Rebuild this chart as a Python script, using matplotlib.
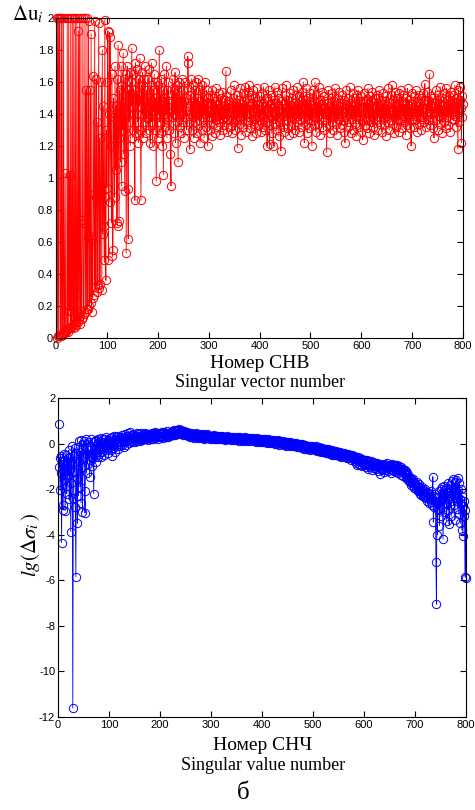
import numpy as np
import matplotlib
matplotlib.use("Agg")
import matplotlib.pyplot as plt

plt.rcParams["axes.unicode_minus"] = False
plt.rcParams["mathtext.fontset"] = "stix"

# Верхний график: delta u_i по номеру сингулярного вектора (1..800)
du = [
    0.00, 2.00, 0.01, 2.00, 0.01, 2.00, 2.00, 0.02, 0.01, 2.00, 0.02, 2.00, 0.03, 0.02, 2.00, 0.03, 0.04, 1.03, 0.04, 0.05,
    0.05, 2.00, 0.06, 0.04, 2.00, 0.17, 1.02, 0.06, 2.00, 0.07, 0.16, 2.00, 0.08, 0.06, 2.00, 0.09, 0.07, 2.00, 0.10, 0.08,
    2.00, 0.28, 0.10, 1.92, 0.12, 2.00, 0.09, 0.14, 2.00, 0.17, 0.12, 0.74, 2.00, 0.13, 0.15, 0.72, 2.00, 0.16, 1.55, 0.18,
    2.00, 0.18, 0.63, 1.98, 0.20, 0.64, 1.55, 0.22, 1.90, 0.16, 0.62, 0.25, 1.64, 0.90, 0.27, 1.98, 0.32, 0.88, 1.62, 0.29,
    1.35, 0.33, 0.86, 1.97, 0.31, 1.25, 0.34, 0.92, 1.60, 0.30, 1.80, 0.65, 1.45, 0.70, 0.49, 1.99, 0.88, 0.36, 1.30, 0.94,
    1.60, 1.92, 0.49, 1.40, 1.91, 0.85, 1.88, 1.20, 0.72, 1.65, 0.51, 0.55, 1.50, 1.38, 0.88, 1.70, 1.05, 1.45, 0.72, 1.62,
    0.70, 1.83, 1.25, 0.73, 1.55, 1.45, 1.10, 1.70, 0.95, 1.58, 1.30, 1.78, 1.15, 1.62, 0.92, 1.40, 1.65, 0.53, 1.48, 1.70,
    0.93, 0.62, 1.55, 1.35, 1.66, 1.20, 1.60, 1.45, 1.81, 1.25, 1.65, 1.30, 1.55, 1.40, 0.86, 1.72, 1.28, 1.50, 1.68, 1.35,
    1.52, 1.22, 1.62, 1.45, 1.75, 1.30, 0.86, 1.58, 1.40, 1.66, 1.25, 1.48, 1.62, 1.35, 1.70, 1.42, 1.28, 1.55, 1.38, 1.62,
    1.45, 1.30, 1.68, 1.40, 1.22, 1.58, 1.35, 1.72, 1.48, 1.20, 1.55, 1.42, 1.65, 1.30, 1.50, 1.38, 0.98, 1.60, 1.45, 1.25,
    1.58, 1.40, 1.80, 1.35, 1.52, 1.28, 1.62, 1.44, 1.20, 1.55, 1.02, 1.48, 1.65, 1.32, 1.50, 1.40, 1.70, 1.25, 1.55, 1.38,
    1.60, 1.30, 1.48, 1.42, 1.15, 0.95, 1.52, 1.38, 1.62, 1.45, 1.28, 1.55, 1.40, 1.66, 1.22, 1.50, 1.35, 1.58, 1.44, 1.10,
    1.48, 1.60, 1.32, 1.52, 1.40, 1.28, 1.62, 1.45, 1.35, 1.55, 1.25, 1.48, 1.60, 1.38, 1.50, 1.42, 1.30, 1.56, 1.76, 1.72,
    1.45, 1.35, 1.18, 1.52, 1.40, 1.62, 1.30, 1.48, 1.38, 1.58, 1.25, 1.45, 1.55, 1.35, 1.60, 1.42, 1.28, 1.50, 1.40, 1.62,
    1.36, 1.48, 1.22, 1.55, 1.42, 1.30, 1.58, 1.45, 1.38, 1.52, 1.25, 1.60, 1.40, 1.46, 1.32, 1.55, 1.42, 1.20, 1.50, 1.38,
    1.42, 1.30, 1.52, 1.38, 1.47, 1.26, 1.55, 1.40, 1.34, 1.50, 1.44, 1.28, 1.48, 1.36, 1.56, 1.41, 1.32, 1.46, 1.39, 1.53,
    1.35, 1.44, 1.27, 1.50, 1.42, 1.37, 1.54, 1.30, 1.45, 1.40, 1.33, 1.49, 1.38, 1.67, 1.43, 1.29, 1.51, 1.36, 1.46, 1.41,
    1.48, 1.32, 1.44, 1.55, 1.37, 1.28, 1.50, 1.42, 1.35, 1.58, 1.40, 1.30, 1.47, 1.43, 1.36, 1.52, 1.19, 1.45, 1.38, 1.49,
    1.34, 1.56, 1.41, 1.27, 1.46, 1.39, 1.53, 1.32, 1.44, 1.48, 1.36, 1.57, 1.40, 1.29, 1.50, 1.43, 1.35, 1.54, 1.58, 1.38,
    1.45, 1.31, 1.52, 1.40, 1.26, 1.47, 1.42, 1.55, 1.34, 1.44, 1.50, 1.37, 1.28, 1.48, 1.41, 1.56, 1.33, 1.46, 1.39, 1.51,
    1.36, 1.43, 1.29, 1.53, 1.40, 1.47, 1.32, 1.57, 1.38, 1.45, 1.30, 1.50, 1.42, 1.35, 1.20, 1.48, 1.41, 1.55, 1.33, 1.21,
    1.46, 1.39, 1.52, 1.28, 1.44, 1.37, 1.20, 1.49, 1.42, 1.57, 1.34, 1.47, 1.40, 1.30, 1.54, 1.38, 1.45, 1.26, 1.50, 1.43,
    1.35, 1.17, 1.48, 1.41, 1.56, 1.32, 1.46, 1.39, 1.29, 1.52, 1.44, 1.36, 1.58, 1.40, 1.31, 1.49, 1.43, 1.27, 1.53, 1.38,
    1.45, 1.33, 1.50, 1.42, 1.28, 1.55, 1.37, 1.47, 1.40, 1.30, 1.52, 1.44, 1.35, 1.57, 1.39, 1.46, 1.29, 1.51, 1.41, 1.36,
    1.48, 1.32, 1.54, 1.40, 1.45, 1.60, 1.38, 1.22, 1.49, 1.43, 1.34, 1.56, 1.41, 1.28, 1.50, 1.37, 1.46, 1.31, 1.53, 1.42,
    1.36, 1.47, 1.20, 1.44, 1.39, 1.55, 1.33, 1.48, 1.60, 1.41, 1.29, 1.52, 1.38, 1.45, 1.34, 1.57, 1.42, 1.27, 1.49, 1.40,
    1.46, 1.32, 1.54, 1.38, 1.43, 1.30, 1.51, 1.44, 1.36, 1.48, 1.40, 1.16, 1.47, 1.42, 1.55, 1.33, 1.45, 1.39, 1.28, 1.50,
    1.41, 1.35, 1.53, 1.44, 1.30, 1.48, 1.38, 1.56, 1.42, 1.34, 1.46, 1.27, 1.50, 1.40, 1.37, 1.54, 1.43, 1.31, 1.47, 1.39,
    1.45, 1.33, 1.52, 1.41, 1.36, 1.49, 1.29, 1.22, 1.44, 1.55, 1.38, 1.46, 1.32, 1.50, 1.42, 1.35, 1.57, 1.40, 1.28, 1.47,
    1.43, 1.37, 1.53, 1.30, 1.45, 1.40, 1.50, 1.34, 1.46, 1.26, 1.52, 1.41, 1.38, 1.55, 1.44, 1.32, 1.48, 1.39, 1.29, 1.51,
    1.42, 1.36, 1.24, 1.47, 1.40, 1.53, 1.33, 1.45, 1.38, 1.49, 1.31, 1.43, 1.56, 1.37, 1.46, 1.28, 1.51, 1.41, 1.35, 1.48,
    1.39, 1.54, 1.32, 1.44, 1.40, 1.27, 1.50, 1.43, 1.36, 1.52, 1.45, 1.30, 1.47, 1.38, 1.55, 1.41, 1.34, 1.49, 1.42, 1.29,
    1.46, 1.37, 1.53, 1.40, 1.33, 1.48, 1.44, 1.26, 1.51, 1.39, 1.45, 1.35, 1.56, 1.42, 1.30, 1.47, 1.41, 1.36, 1.52, 1.58,
    1.43, 1.34, 1.49, 1.40, 1.28, 1.54, 1.38, 1.45, 1.32, 1.50, 1.42, 1.36, 1.47, 1.29, 1.53, 1.41, 1.37, 1.55, 1.44, 1.31,
    1.48, 1.39, 1.52, 1.35, 1.46, 1.42, 1.27, 1.50, 1.40, 1.33, 1.56, 1.44, 1.38, 1.49, 1.31, 1.45, 1.41, 1.20, 1.53, 1.37,
    1.46, 1.40, 1.32, 1.51, 1.43, 1.36, 1.55, 1.39, 1.48, 1.29, 1.45, 1.42, 1.34, 1.52, 1.38, 1.47, 1.30, 1.50, 1.44, 1.37,
    1.53, 1.41, 1.35, 1.49, 1.59, 1.43, 1.32, 1.46, 1.39, 1.54, 1.36, 1.48, 1.42, 1.65, 1.40, 1.33, 1.51, 1.45, 1.37, 1.50,
    1.44, 1.31, 1.25, 1.47, 1.41, 1.55, 1.36, 1.49, 1.43, 1.30, 1.52, 1.39, 1.46, 1.34, 1.57, 1.42, 1.38, 1.50, 1.28, 1.45,
    1.40, 1.53, 1.35, 1.47, 1.42, 1.31, 1.56, 1.44, 1.38, 1.49, 1.33, 1.51, 1.41, 1.46, 1.29, 1.54, 1.43, 1.37, 1.48, 1.40,
    1.52, 1.36, 1.45, 1.58, 1.39, 1.47, 1.32, 1.50, 1.43, 1.18, 1.55, 1.41, 1.35, 1.49, 1.57, 1.44, 1.22, 1.51, 1.38, 1.46,
]

# Нижний график: lg(delta sigma_i) по номеру сингулярного числа
lg_ds = [
    0.85, -1.05, -0.62, -2.05, -0.55, -1.30, -4.35, -0.80, -2.70, -2.90, -0.45, -1.60, -0.70, -2.95, -1.20, -0.50, -2.20, -1.85, -0.65, -1.40,
    -0.30, -2.45, -1.10, -0.60, -3.86, -1.75, -0.10, -0.85, -11.60, -2.40, -0.55, -1.25, -0.20, -2.80, -5.85, -0.40, -1.50, -3.50, -0.15, -2.30,
    -0.75, 0.10, -1.90, -0.35, -2.60, 0.15, -1.05, -3.00, -0.25, -0.60, 0.12, -2.10, -3.05, -0.45, 0.18, -1.30, -0.20, -0.90, 0.08, -0.55,
    -0.30, -1.45, -0.70, 0.20, -0.15, -1.00, -0.40, 0.05, -0.65, -2.20, -0.25, 0.10, -0.50, -0.80, 0.15, -0.35, -0.05, -0.60, 0.22, -0.20,
    -0.45, 0.10, -0.15, -0.60, 0.25, -0.10, -0.35, 0.18, -0.25, 0.05, -0.50, 0.20, -0.05, -0.30, 0.28, 0.00, -0.20, 0.15, -0.40, 0.10,
    -0.15, 0.25, -0.30, 0.05, 0.30, -0.55, 0.12, -0.20, 0.35, -0.05, 0.20, -0.35, 0.15, 0.28, -0.10, 0.05, 0.32, -0.25, 0.18, 0.00,
    0.30, -0.12, 0.22, 0.05, 0.38, -0.05, 0.15, 0.28, -0.15, 0.20, 0.40, 0.08, 0.25, -0.08, 0.32, 0.12, 0.45, 0.18, 0.02, 0.35,
    0.20, 0.50, 0.10, 0.28, 0.38, 0.05, 0.25, 0.42, 0.15, 0.30, 0.08, 0.35, 0.22, 0.45, 0.12, 0.30, 0.40, 0.18, 0.26, 0.10,
    0.32, 0.45, 0.20, 0.38, 0.15, 0.28, 0.42, 0.25, 0.35, 0.18, 0.48, 0.30, 0.22, 0.40, 0.28, 0.15, 0.36, 0.44, 0.25, 0.32,
    0.40, 0.22, 0.35, 0.48, 0.28, 0.38, 0.20, 0.42, 0.32, 0.50, 0.25, 0.36, 0.45, 0.30, 0.40, 0.22, 0.38, 0.46, 0.28, 0.35,
    0.42, 0.30, 0.50, 0.35, 0.25, 0.45, 0.38, 0.52, 0.32, 0.40, 0.28, 0.46, 0.36, 0.55, 0.42, 0.30, 0.48, 0.38, 0.45, 0.34,
    0.50, 0.40, 0.56, 0.44, 0.36, 0.52, 0.42, 0.58, 0.46, 0.38, 0.55, 0.45, 0.60, 0.48, 0.40, 0.58, 0.50, 0.62, 0.45, 0.55,
    0.48, 0.58, 0.42, 0.52, 0.45, 0.38, 0.55, 0.44, 0.50, 0.36, 0.46, 0.40, 0.52, 0.35, 0.44, 0.48, 0.38, 0.42, 0.30, 0.45,
    0.36, 0.40, 0.28, 0.44, 0.34, 0.38, 0.25, 0.42, 0.32, 0.36, 0.45, 0.30, 0.38, 0.26, 0.40, 0.33, 0.28, 0.42, 0.35, 0.30,
    0.38, 0.25, 0.34, 0.40, 0.28, 0.36, 0.22, 0.38, 0.30, 0.34, 0.26, 0.40, 0.32, 0.28, 0.36, 0.24, 0.35, 0.30, 0.20, 0.33,
    0.28, 0.35, 0.22, 0.32, 0.26, 0.36, 0.20, 0.30, 0.34, 0.24, 0.28, 0.18, 0.32, 0.26, 0.30, 0.22, 0.34, 0.25, 0.20, 0.29,
    0.24, 0.32, 0.18, 0.28, 0.22, 0.30, 0.26, 0.16, 0.28, 0.24, 0.32, 0.20, 0.26, 0.22, 0.30, 0.18, 0.25, 0.28, 0.15, 0.24,
    0.20, 0.28, 0.22, 0.26, 0.14, 0.24, 0.30, 0.18, 0.22, 0.26, 0.16, 0.28, 0.20, 0.24, 0.12, 0.22, 0.27, 0.18, 0.25, 0.15,
    0.22, 0.26, 0.12, 0.20, 0.24, 0.18, 0.28, 0.14, 0.20, 0.25, 0.10, 0.22, 0.18, 0.26, 0.15, 0.20, 0.12, 0.24, 0.18, 0.22,
    0.14, 0.20, 0.25, 0.10, 0.18, 0.22, 0.15, 0.08, 0.20, 0.16, 0.24, 0.12, 0.18, 0.06, 0.20, 0.14, 0.10, 0.18, 0.22, 0.08,
    0.15, 0.12, 0.20, 0.05, 0.14, 0.18, 0.10, 0.16, 0.02, 0.12, 0.18, 0.08, 0.14, 0.10, 0.04, 0.15, 0.12, 0.06, 0.16, 0.10,
    0.02, 0.12, 0.08, 0.14, 0.00, 0.10, 0.06, 0.12, -0.02, 0.08, 0.14, 0.04, 0.10, -0.05, 0.06, 0.12, 0.02, 0.08, -0.04, 0.05,
    0.10, 0.00, 0.06, -0.06, 0.08, 0.02, -0.10, 0.05, 0.00, 0.08, -0.08, 0.03, -0.02, 0.06, -0.12, 0.00, 0.04, -0.06, 0.02, -0.10,
    0.00, -0.05, 0.04, -0.12, -0.02, 0.02, -0.08, -0.14, -0.04, 0.00, -0.10, -0.16, -0.06, -0.02, -0.12, -0.15, -0.08, -0.04, -0.18, -0.10,
    -0.12, -0.06, -0.22, -0.10, -0.08, -0.16, -0.24, -0.10, -0.14, -0.20, -0.26, -0.12, -0.18, -0.10, -0.28, -0.15, -0.20, -0.12, -0.25, -0.18,
    -0.14, -0.22, -0.30, -0.16, -0.24, -0.12, -0.28, -0.34, -0.18, -0.26, -0.15, -0.32, -0.22, -0.28, -0.36, -0.20, -0.26, -0.18, -0.32, -0.38,
    -0.25, -0.30, -0.22, -0.36, -0.28, -0.42, -0.26, -0.32, -0.40, -0.24, -0.35, -0.30, -0.45, -0.28, -0.38, -0.32, -0.48, -0.30, -0.36, -0.42,
    -0.34, -0.50, -0.38, -0.44, -0.32, -0.52, -0.40, -0.46, -0.36, -0.55, -0.42, -0.48, -0.38, -0.58, -0.44, -0.50, -0.40, -0.56, -0.46, -0.52,
    -0.42, -0.60, -0.48, -0.54, -0.45, -0.62, -0.50, -0.56, -0.44, -0.65, -0.52, -0.58, -0.48, -0.70, -0.55, -0.60, -0.50, -0.66, -0.56, -0.62,
    -0.55, -0.78, -0.62, -0.85, -0.60, -0.92, -0.68, -0.75, -0.58, -0.88, -0.70, -0.95, -0.65, -0.80, -0.72, -1.00, -0.66, -0.84, -0.74, -0.90,
    -0.70, -0.95, -0.78, -1.05, -0.72, -0.88, -1.10, -0.80, -0.92, -0.75, -1.02, -0.85, -0.95, -0.78, -1.15, -0.88, -0.82, -1.00, -0.90, -1.08,
    -0.84, -0.98, -1.12, -0.90, -1.02, -0.86, -1.20, -0.95, -1.05, -0.92, -1.35, -0.98, -1.08, -0.88, -1.15, -1.00, -0.94, -1.10, -1.25, -0.96,
    -1.05, -0.90, -1.18, -0.98, -1.08, -0.86, -1.22, -1.00, -0.92, -1.12, -0.95, -1.28, -1.02, -0.90, -1.15, -1.05, -0.96, -1.20, -1.08, -0.94,
    -1.10, -1.00, -1.25, -0.95, -1.15, -1.05, -1.30, -1.08, -0.98, -1.20, -1.12, -1.38, -1.05, -1.18, -1.25, -1.10, -1.42, -1.20, -1.30, -1.15,
    -1.35, -1.22, -1.50, -1.30, -1.45, -1.58, -1.38, -1.65, -1.48, -1.55, -1.70, -1.52, -1.80, -1.62, -1.72, -1.55, -1.85, -1.68, -1.95, -1.75,
    -1.82, -2.00, -1.70, -1.92, -2.10, -1.85, -2.05, -1.78, -2.20, -1.95, -2.08, -2.25, -1.90, -2.15, -2.30, -2.02, -2.18, -2.35, -2.10, -2.00,
    -2.25, -2.40, -2.12, -2.50, -2.20, -2.35, -2.60, -2.15, -2.45, -2.30, -2.55, -2.10, -2.70, -2.40, -1.45, -3.45, -2.30, -2.80, -2.50, -2.20,
    -5.20, -7.05, -2.60, -4.00, -2.35, -2.90, -2.10, -3.60, -2.50, -2.00, -3.20, -2.40, -1.90, -2.80, -4.20, -2.30, -1.85, -3.00, -2.20, -2.60,
    -1.95, -3.40, -2.15, -1.75, -2.90, -2.45, -3.55, -1.80, -2.30, -2.10, -3.20, -1.65, -2.50, -2.00, -1.55, -2.70, -2.25, -3.35, -1.70, -2.40,
    -1.60, -2.20, -2.85, -1.50, -2.05, -3.10, -1.75, -2.45, -3.50, -2.00, -2.60, -3.80, -2.30, -4.05, -2.75, -3.20, -2.50, -5.85, -2.90, -5.90,
]

x_ticks = [0, 100, 200, 300, 400, 500, 600, 700, 800]
top_yticks = [0, 0.2, 0.4, 0.6, 0.8, 1, 1.2, 1.4, 1.6, 1.8, 2]
top_ylabels = ["0", "0.2", "0.4", "0.6", "0.8", "1", "1.2", "1.4", "1.6", "1.8", "2"]
bot_yticks = [2, 0, -2, -4, -6, -8, -10, -12]

fig = plt.figure(figsize=(4.75, 8.10), dpi=100)
ax1 = fig.add_axes([56 / 475, 1 - 338 / 810, 407 / 475, 320 / 810])
ax2 = fig.add_axes([58 / 475, 1 - 717 / 810, 408 / 475, 319 / 810])


def style(ax):
    ax.tick_params(direction="in", top=True, right=True, length=4, width=0.8,
                   labelsize=8, pad=2)
    for lab in ax.get_xticklabels() + ax.get_yticklabels():
        lab.set_fontfamily("Liberation Sans")
    for s in ax.spines.values():
        s.set_linewidth(0.8)


x1 = np.arange(1, len(du) + 1)
ax1.plot(x1, du, "-o", color="red", lw=0.6, ms=6, mfc="none", mew=0.7, clip_on=False)
ax1.set_xlim(0, 800)
ax1.set_ylim(0, 2)
ax1.set_xticks(x_ticks)
ax1.set_yticks(top_yticks)
ax1.set_yticklabels(top_ylabels)
style(ax1)

x2 = np.arange(1, len(lg_ds) + 1)
ax2.plot(x2, lg_ds, "-o", color="blue", lw=0.6, ms=6, mfc="none", mew=0.7, clip_on=False)
ax2.set_xlim(0, 800)
ax2.set_ylim(-12, 2)
ax2.set_xticks(x_ticks)
ax2.set_yticks(bot_yticks)
style(ax2)

serif = "Liberation Serif"
fig.text(12 / 475, 1 - 20 / 810, r"$\Delta\mathrm{u}_{i}$", fontsize=15, ha="left", va="baseline")
fig.text(260 / 475, 1 - 363 / 810, "Номер СНВ", family=serif, fontsize=14, ha="center", va="center")
fig.text(260 / 475, 1 - 383 / 810, "Singular vector number", family=serif, fontsize=13, ha="center", va="center")

fig.text(30 / 475, 1 - 545 / 810, r"$lg(\Delta\sigma_{i}\,)$", fontsize=15, rotation=90,
         ha="center", va="center")
fig.text(263 / 475, 1 - 745 / 810, "Номер СНЧ", family=serif, fontsize=14, ha="center", va="center")
fig.text(263 / 475, 1 - 766 / 810, "Singular value number", family=serif, fontsize=13, ha="center", va="center")
fig.text(243 / 475, 1 - 793 / 810, "б", family=serif, fontsize=18, ha="center", va="center")

fig.savefig("out.png", dpi=100)
